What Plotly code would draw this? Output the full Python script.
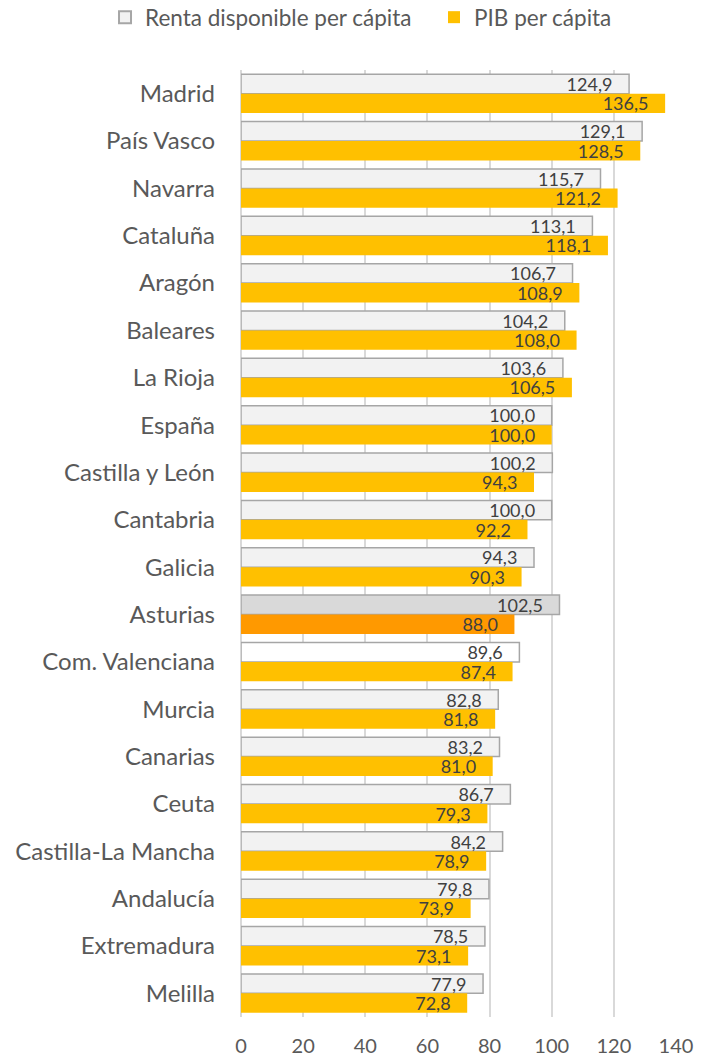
import plotly.graph_objects as go

regions = ["Madrid", "País Vasco", "Navarra", "Cataluña", "Aragón", "Baleares", "La Rioja",
           "España", "Castilla y León", "Cantabria", "Galicia", "Asturias", "Com. Valenciana",
           "Murcia", "Canarias", "Ceuta", "Castilla-La Mancha", "Andalucía", "Extremadura", "Melilla"]
renta = [124.9, 129.1, 115.7, 113.1, 106.7, 104.2, 103.6, 100.0, 100.2, 100.0, 94.3, 102.5,
         89.6, 82.8, 83.2, 86.7, 84.2, 79.8, 78.5, 77.9]
pib = [136.5, 128.5, 121.2, 118.1, 108.9, 108.0, 106.5, 100.0, 94.3, 92.2, 90.3, 88.0,
       87.4, 81.8, 81.0, 79.3, 78.9, 73.9, 73.1, 72.8]
x_ticks = [0, 20, 40, 60, 80, 100, 120, 140]

PAD = "\u2002\u00a0"

def fmt(v):
    return f"{v:.1f}".replace(".", ",") + PAD

renta_colors = []
pib_colors = []
for r in regions:
    if r == "Asturias":
        renta_colors.append("#D9D9D9")
        pib_colors.append("#FF9900")
    elif r == "Com. Valenciana":
        renta_colors.append("#FFFFFF")
        pib_colors.append("#FFC000")
    else:
        renta_colors.append("#F2F2F2")
        pib_colors.append("#FFC000")

FONT = "Lato"
fig = go.Figure()
fig.add_trace(go.Bar(
    y=regions, x=renta, orientation="h", name="Renta disponible per cápita",
    marker=dict(color=renta_colors, line=dict(color="#A6A6A6", width=1.5)),
    text=[fmt(v) for v in renta], textposition="inside", insidetextanchor="end",
    textfont=dict(family=FONT, size=18, color="#404040"), cliponaxis=False,
))
fig.add_trace(go.Bar(
    y=regions, x=pib, orientation="h", name="PIB per cápita",
    marker=dict(color=pib_colors, line=dict(width=0)),
    text=[fmt(v) for v in pib], textposition="inside", insidetextanchor="end",
    textfont=dict(family=FONT, size=18, color="#404040"), cliponaxis=False,
))

fig.update_layout(
    width=704, height=1058,
    margin=dict(l=241, r=28, t=70, b=41, autoexpand=False),
    barmode="group", bargap=0.18, bargroupgap=0.0,
    plot_bgcolor="white", paper_bgcolor="white",
    font=dict(family=FONT, color="#595959"),
    uniformtext=dict(mode="show", minsize=18),
    legend=dict(orientation="h", xref="paper", x=-0.3126, xanchor="left",
                yref="paper", y=1.0554, yanchor="middle",
                font=dict(family=FONT, size=22.5, color="#595959"),
                itemsizing="constant", traceorder="normal", itemwidth=30,
                entrywidth=284, entrywidthmode="pixels"),
    xaxis=dict(range=[0, 140], tickvals=x_ticks, ticktext=[str(t) for t in x_ticks],
               showgrid=True, gridcolor="#D9D9D9", gridwidth=1.5,
               zeroline=True, zerolinecolor="#D9D9D9", zerolinewidth=1.5,
               showline=False, tickfont=dict(family=FONT, size=20, color="#595959"),
               ticks="", ticklabelstandoff=15, automargin=False),
    yaxis=dict(categoryorder="array", categoryarray=regions, autorange="reversed",
               showgrid=False, showline=False, ticks="", automargin=False,
               tickfont=dict(family=FONT, size=24, color="#595959"), ticklabelstandoff=25),
)

fig.write_html("out.html", config={"displayModeBar": False},
               post_script="document.body.style.margin='0';")
